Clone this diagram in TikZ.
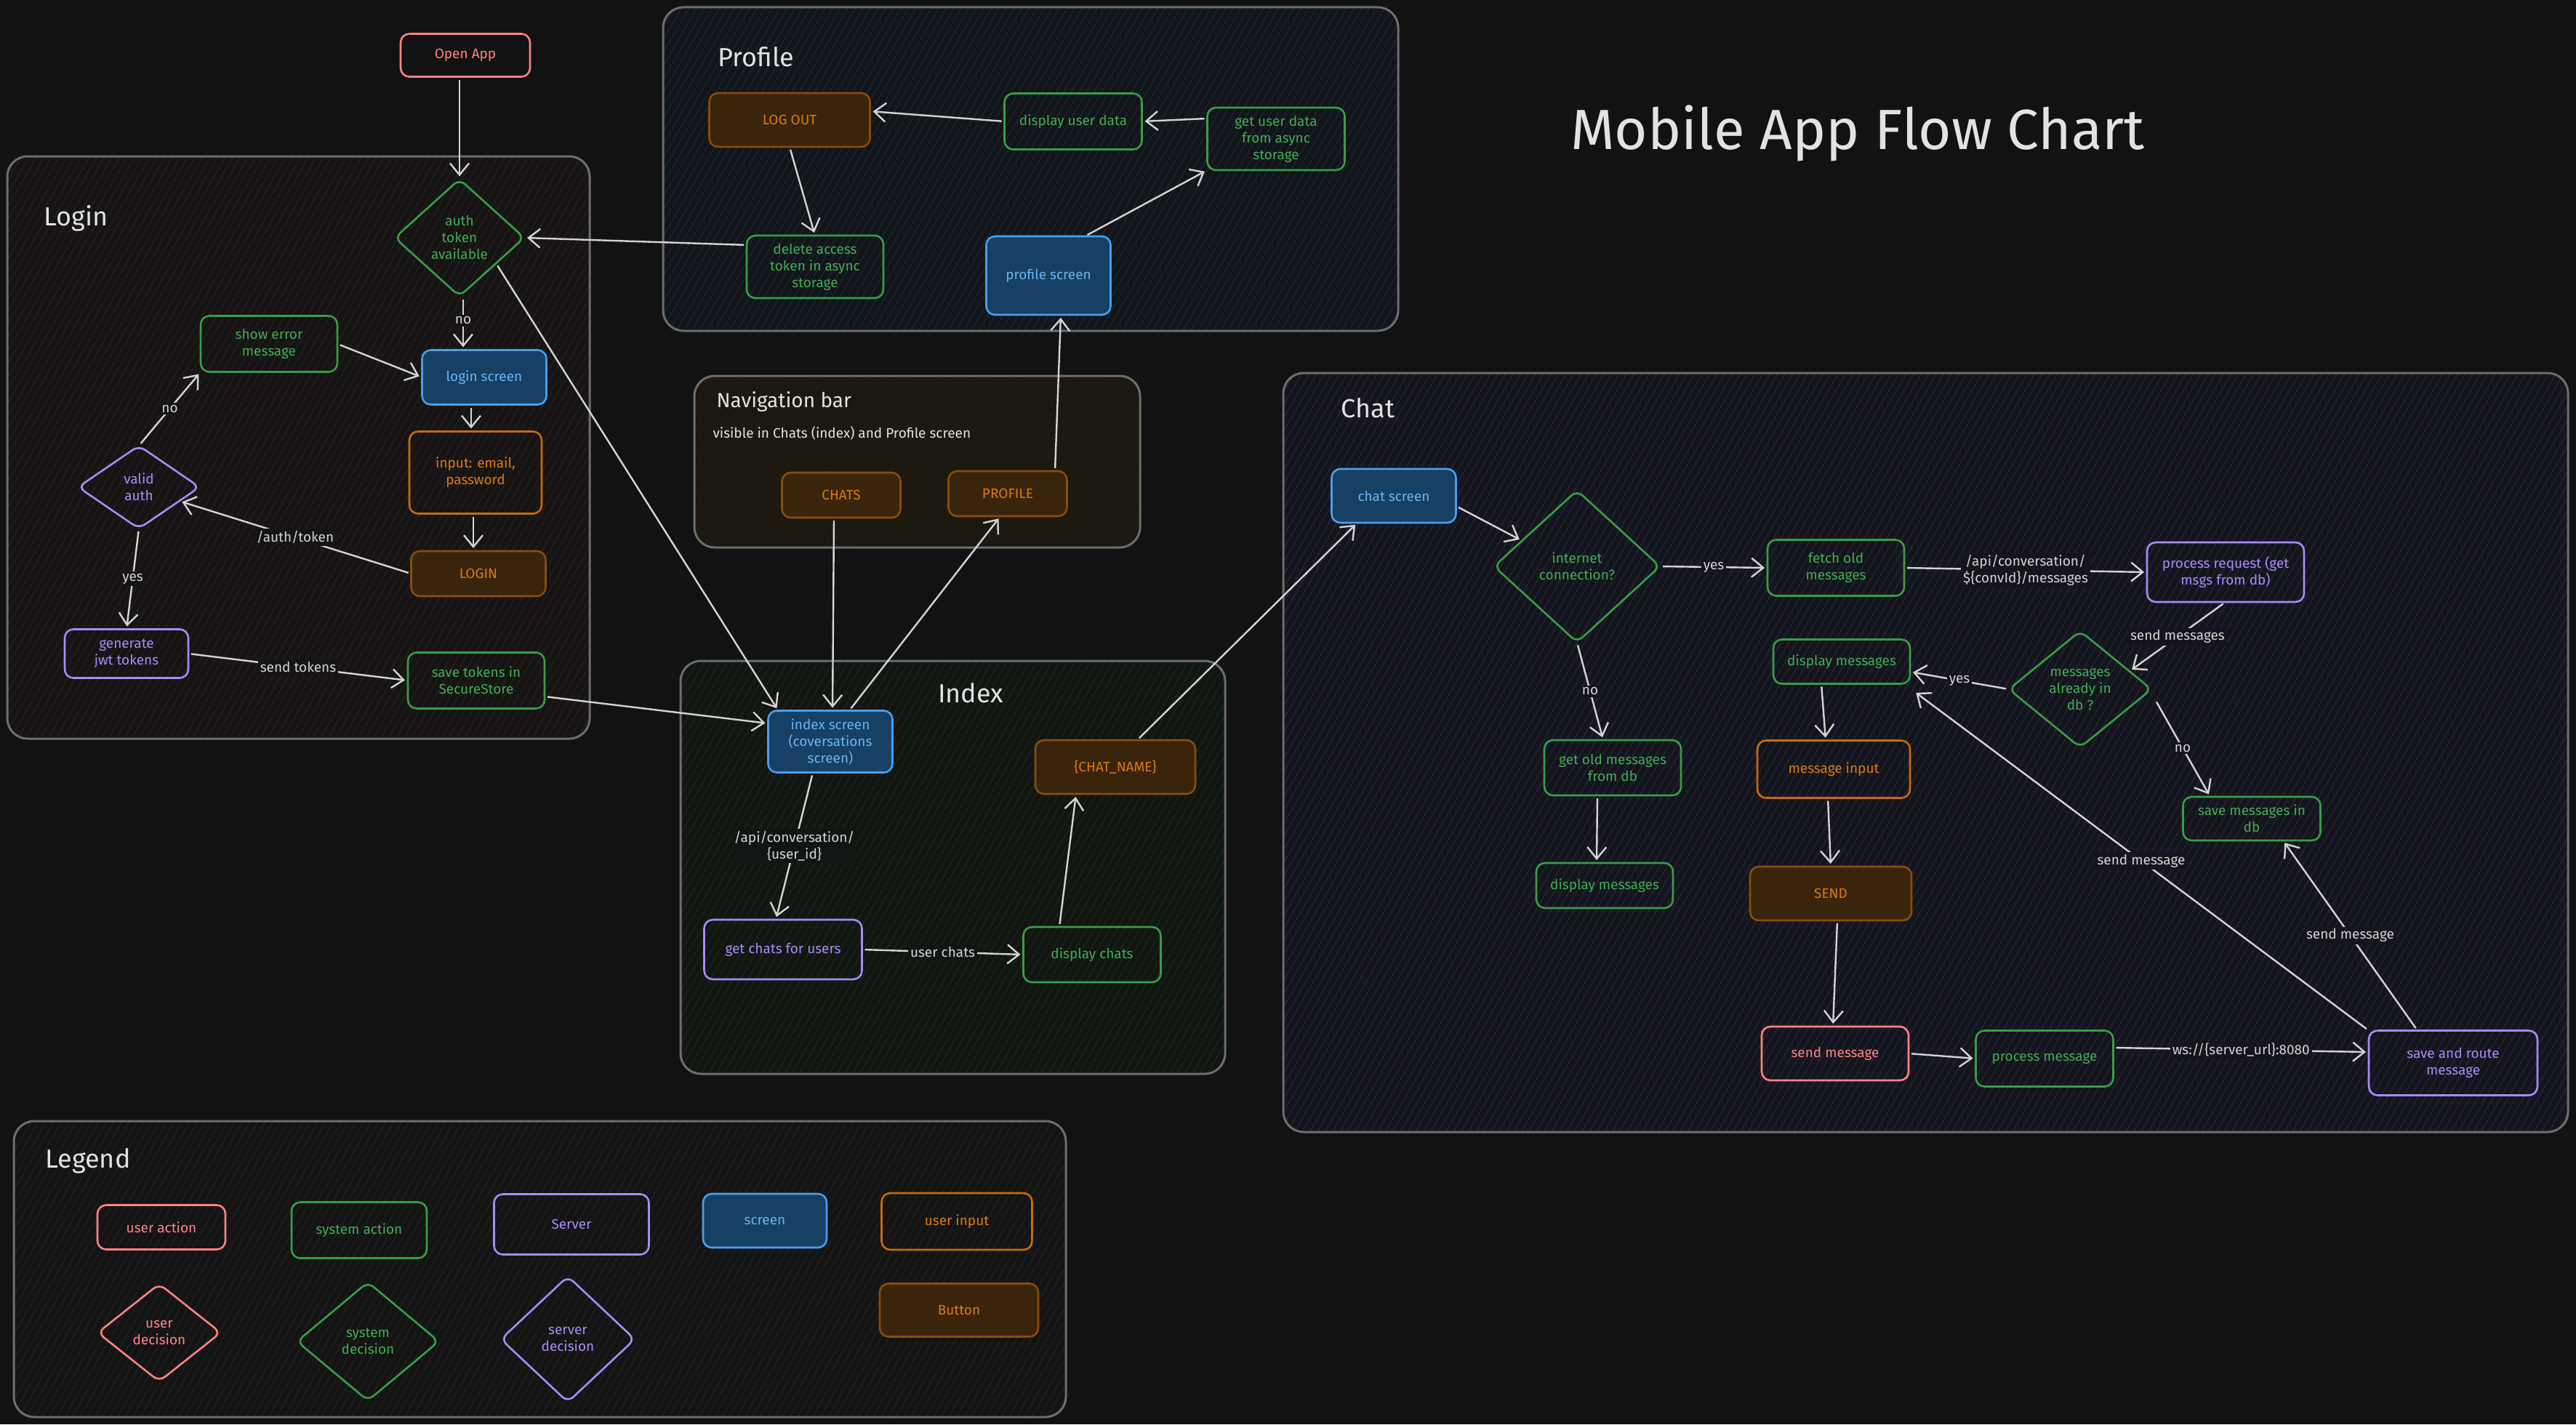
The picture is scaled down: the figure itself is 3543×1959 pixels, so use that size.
\documentclass[tikz,border=0pt]{standalone}
\usepackage{fontspec}
\setmainfont{Fira Sans}
\usetikzlibrary{arrows.meta,shapes.geometric,calc,patterns.meta}
\definecolor{bg}{HTML}{121212}
\definecolor{cRed}{HTML}{FF8383}
\definecolor{cGreen}{HTML}{379E48}
\definecolor{cGreenT}{HTML}{41AD52}
\definecolor{cPurple}{HTML}{A98BFA}
\definecolor{cBlue}{HTML}{4A9EED}
\definecolor{cBlueF}{HTML}{164064}
\definecolor{cBlueT}{HTML}{6AB4F0}
\definecolor{cOrange}{HTML}{C86A0A}
\definecolor{cOrangeT}{HTML}{DC7A12}
\definecolor{cBtnF}{HTML}{3A240C}
\definecolor{cBtnS}{HTML}{8A4C0C}
\definecolor{cArrow}{HTML}{D4D4D4}
\definecolor{cCont}{HTML}{6E6E6E}
\definecolor{cTitle}{HTML}{E2E2E2}
\definecolor{cLoginF}{HTML}{161414}
\definecolor{cLoginH}{HTML}{2B2222}
\definecolor{cProfF}{HTML}{121519}
\definecolor{cProfH}{HTML}{1F2B38}
\definecolor{cNavF}{HTML}{1C1810}
\definecolor{cNavH}{HTML}{231D13}
\definecolor{cIndexF}{HTML}{121612}
\definecolor{cIndexH}{HTML}{1C2A1C}
\definecolor{cChatF}{HTML}{15151D}
\definecolor{cChatH}{HTML}{2A2A42}
\definecolor{cLegF}{HTML}{141414}
\definecolor{cLegH}{HTML}{222222}
\newcommand\ContBox[4]{%
  \fill[#1, rounded corners=28pt] (#3) rectangle (#4);
  \fill[pattern={Lines[angle=60,distance=9pt,line width=1pt]}, pattern color=#2, rounded corners=28pt] (#3) rectangle (#4);
  \draw[draw=cCont, line width=3pt, rounded corners=28pt] (#3) rectangle (#4);}
\tikzset{
  every node/.style={font=\fontsize{19}{23}\selectfont},
  box/.style={draw, rounded corners=12pt, line width=2.6pt, align=center, inner sep=0pt, outer sep=0pt},
  sz/.style 2 args={minimum width=#1pt, minimum height=#2pt},
  uact/.style={box, draw=cRed, text=cRed},
  sact/.style={box, draw=cGreen, text=cGreenT},
  srv/.style={box, draw=cPurple, text=cPurple},
  scr/.style={box, draw=cBlue, fill=cBlueF, text=cBlueT},
  uin/.style={box, draw=cOrange, text=cOrangeT},
  btn/.style={box, draw=cBtnS, fill=cBtnF, text=cOrangeT},
  dia/.style={draw, shape=diamond, rounded corners=10pt, line width=2.6pt, inner sep=0pt, outer sep=0pt},
  dtext/.style={align=center},
  arr/.style={draw=cArrow, line width=2.4pt, -{Straight Barb[length=16pt,width=26pt]}, shorten >=4pt, shorten <=4pt},
  lbl/.style={text=cArrow, inner sep=3pt, align=center},
  ctitle/.style={text=cTitle, font=\fontsize{36}{40}\selectfont, anchor=west},
}
\begin{document}
\begin{tikzpicture}[x=1pt,y=-1pt]
\useasboundingbox (0,0) rectangle (3543,1959);
\fill[bg] (0,0) rectangle (3543,1959);

% containers
\ContBox{cLoginF}{cLoginH}{10,215}{811,1016}
\ContBox{cProfF}{cProfH}{912,10}{1923,455}
\ContBox{cNavF}{cNavH}{955,517}{1568,753}
\ContBox{cIndexF}{cIndexH}{936,909}{1685,1477}
\ContBox{cChatF}{cChatH}{1765,513}{3532,1557}
\ContBox{cLegF}{cLegH}{19,1542}{1466,1949}

% titles
\node[text=cTitle, font=\fontsize{78}{80}\selectfont, anchor=base] (maintitle) at (2555,205) {Mobile App Flow Chart};
\node[ctitle] (tlogin) at (57,300) {Login};
\node[ctitle] (tprof) at (984,78) {Profile};
\node[ctitle, font=\fontsize{28}{32}\selectfont] (tnav) at (982,553) {Navigation bar};
\node[ctitle, text=cTitle, font=\fontsize{19}{22}\selectfont] (tnavsub) at (977,596) {visible in Chats (index) and Profile screen};
\node[ctitle, anchor=center] (tindex) at (1335,953) {Index};
\node[ctitle] (tchat) at (1841,561) {Chat};
\node[ctitle] (tleg) at (59,1597) {Legend};

% ---------- Login ----------
\node[uact, sz={178}{59}] (open) at (640,76) {Open App};
\node[dia, draw=cGreen, minimum width=178pt, minimum height=161pt] (auth) at (632,327) {};
\node[dtext, text=cGreenT] at (auth) {auth\\token\\available};
\node[sact, sz={188}{77}] (showerr) at (370,473) {show error\\message};
\node[scr, sz={171}{75}] (loginscr) at (666,519) {login screen};
\node[uin, sz={182}{113}] (input) at (654,650) {input: email,\\password};
\node[btn, sz={185}{62}] (loginbtn) at (658,789) {LOGIN};
\node[dia, draw=cPurple, minimum width=167pt, minimum height=114pt] (valid) at (191,670) {};
\node[dtext, text=cPurple] at (valid) {valid\\auth};
\node[srv, sz={170}{67}] (gen) at (174,899) {generate\\jwt tokens};
\node[sact, sz={188}{77}] (save) at (655,936) {save tokens in\\SecureStore};

% ---------- Profile ----------
\node[btn, sz={221}{74}] (logout) at (1086,165) {LOG OUT};
\node[sact, sz={189}{77}] (dispu) at (1476,167) {display user data};
\node[sact, sz={189}{86}] (getu) at (1755,191) {get user data\\from async\\storage};
\node[sact, sz={188}{86}] (delete) at (1121,367) {delete access\\token in async\\storage};
\node[scr, sz={171}{108}] (profs) at (1442,379) {profile screen};

% ---------- Nav ----------
\node[btn, sz={163}{62}] (chatsbtn) at (1157,681) {CHATS};
\node[btn, sz={163}{62}] (profbtn) at (1386,679) {PROFILE};

% ---------- Index ----------
\node[scr, sz={171}{85}] (index) at (1142,1020) {index screen\\(coversations\\screen)};
\node[btn, sz={220}{74}] (chatname) at (1534,1055) {\{CHAT\_NAME\}};
\node[srv, sz={217}{82}] (getchats) at (1077,1306) {get chats for users};
\node[sact, sz={189}{76}] (dispchats) at (1502,1313) {display chats};

% ---------- Chat ----------
\node[scr, sz={171}{74}] (chatscr) at (1917,682) {chat screen};
\node[dia, draw=cGreen, minimum width=228pt, minimum height=209pt] (inet) at (2169,779) {};
\node[dtext, text=cGreenT] at (inet) {internet\\connection?};
\node[sact, sz={188}{77}] (fetch) at (2525,781) {fetch old\\messages};
\node[srv, sz={216}{82}] (procreq) at (3061,787) {process request (get\\msgs from db)};
\node[dia, draw=cGreen, minimum width=196pt, minimum height=160pt] (msgdb) at (2861,948) {};
\node[dtext, text=cGreenT] at (msgdb) {messages\\already in\\db ?};
\node[sact, sz={188}{61}] (dispright) at (2533,910) {display messages};
\node[sact, sz={188}{76}] (getold) at (2218,1056) {get old messages\\from db};
\node[uin, sz={210}{79}] (msgin) at (2522,1058) {message input};
\node[sact, sz={188}{62}] (displeft) at (2207,1218) {display messages};
\node[btn, sz={222}{74}] (sendbtn) at (2518,1229) {SEND};
\node[sact, sz={189}{60}] (savedb) at (3097,1126) {save messages in\\db};
\node[uact, sz={202}{74}] (sendmsg) at (2524,1449) {send message};
\node[sact, sz={189}{77}] (procmsg) at (2812,1456) {process message};
\node[srv, sz={232}{89}] (saveroute) at (3374,1462) {save and route\\message};

% ---------- Legend ----------
\node[uact, sz={176}{61}] (lgua) at (222,1688) {user action};
\node[sact, sz={186}{77}] (lgsa) at (494,1692) {system action};
\node[srv, sz={213}{83}] (lgsrv) at (786,1684) {Server};
\node[scr, sz={170}{74}] (lgscr) at (1052,1679) {screen};
\node[uin, sz={207}{78}] (lgui) at (1316,1680) {user input};
\node[btn, sz={218}{73}] (lgbtn) at (1319,1802) {Button};
\node[dia, draw=cRed, minimum width=169pt, minimum height=134pt] (lgud) at (219,1833) {};
\node[dtext, text=cRed] at (lgud) {user\\decision};
\node[dia, draw=cGreen, minimum width=195pt, minimum height=163pt] (lgsd) at (506,1845) {};
\node[dtext, text=cGreenT] at (lgsd) {system\\decision};
\node[dia, draw=cPurple, minimum width=184pt, minimum height=173pt] (lgsvd) at (781,1842) {};
\node[dtext, text=cPurple] at (lgsvd) {server\\decision};

% ---------- connectors: Login ----------
\draw[arr] (open.south -| auth) -- (auth.north);
\draw[arr] ($(auth.south)+(5,0)$) -- node[lbl, fill=cLoginF, pos=0.45] {no} ($(auth.south |- loginscr.north)+(5,0)$);
\draw[arr] (showerr.east) -- (loginscr.west);
\draw[arr] ($(input.north |- loginscr.south)+(-6,0)$) -- ($(input.north)+(-6,0)$);
\draw[arr] ($(input.south)+(-3,0)$) -- ($(input.south |- loginbtn.north)+(-3,0)$);
\draw[arr] (loginbtn.west) -- node[lbl, fill=cLoginF] {/auth/token} (valid.-19);
\draw[arr] (valid.north) -- node[lbl, fill=cLoginF] {no} (showerr.south west);
\draw[arr] (valid.south) -- node[lbl, fill=cLoginF] {yes} (gen.north);
\draw[arr] (gen.east) -- node[lbl, fill=cLoginF] {send tokens} (save.west);
\draw[arr] ($(save.east)+(0,22)$) -- ($(index.west)+(0,-25)$);
\draw[arr] (auth.-35) -- ($(index.north west)+(14,0)$);

% ---------- connectors: Profile ----------
\draw[arr] ($(delete.west)+(0,-30)$) -- (auth.east);
\draw[arr] (logout.south) -- (delete.north);
\draw[arr] (dispu.west) -- ($(logout.east)+(0,-12)$);
\draw[arr] ($(getu.west)+(0,-28)$) -- (dispu.east);
\draw[arr] ($(profs.north)+(50,0)$) -- (getu.south west);
\draw[arr] ($(profbtn.north)+(65,0)$) -- ($(profs.south)+(17,0)$);

% ---------- connectors: Nav / Index ----------
\draw[arr] ($(chatsbtn.south)+(-10,0)$) -- ($(index.north)+(3,0)$);
\draw[arr] ($(index.north)+(26,0)$) -- ($(profbtn.south)+(-10,0)$);
\draw[arr] ($(index.south)+(-24,0)$) -- node[lbl, fill=cIndexF] {/api/conversation/\\\{user\_id\}} ($(getchats.north)+(-10,0)$);
\draw[arr] (getchats.east) -- node[lbl, fill=cIndexF] {user chats} (dispchats.west);
\draw[arr] ($(dispchats.north)+(-45,0)$) -- ($(chatname.south)+(-54,0)$);
\draw[arr] ($(chatname.north)+(30,0)$) -- ($(chatscr.south)+(-50,0)$);

% ---------- connectors: Chat ----------
\draw[arr] ($(chatscr.east)+(0,14)$) -- (inet.155);
\draw[arr] (inet.east) -- node[lbl, fill=cChatF] {yes} (fetch.west);
\draw[arr] (inet.south) -- node[lbl, fill=cChatF] {no} ($(getold.north)+(-13,0)$);
\draw[arr] ($(getold.south)+(-21,0)$) -- ($(displeft.north)+(-11,0)$);
\draw[arr] ($(dispright.south)+(-28,0)$) -- ($(msgin.north)+(-11,0)$);
\draw[arr] ($(msgin.south)+(-8,0)$) -- (sendbtn.north);
\draw[arr] ($(sendbtn.south)+(9,0)$) -- ($(sendmsg.north)+(-3,0)$);
\draw[arr] (sendmsg.east) -- (procmsg.west);
\draw[arr] ($(procmsg.east)+(0,-15)$) -- node[lbl, fill=cChatF] {ws://\{server\_url\}:8080} ($(saveroute.west)+(0,-15)$);
\draw[arr] ($(saveroute.north)+(-49,0)$) -- node[lbl, fill=cChatF] {send message} ($(savedb.south)+(43,0)$);
\draw[arr] (saveroute.north west) -- node[lbl, fill=cChatF] {send message} ($(dispright.south east)+(5,10)$);
\draw[arr] (fetch.east) -- node[lbl, fill=cChatF] {/api/conversation/\\\$\{convId\}/messages} (procreq.west);
\draw[arr] (procreq.south) -- node[lbl, fill=cChatF] {send messages} (msgdb.20);
\draw[arr] (msgdb.west) -- node[lbl, fill=cChatF] {yes} ($(dispright.east)+(0,14)$);
\draw[arr] ($(msgdb.east)+(5,14)$) -- node[lbl, fill=cChatF] {no} ($(savedb.north)+(-57,0)$);
\end{tikzpicture}
\end{document}
